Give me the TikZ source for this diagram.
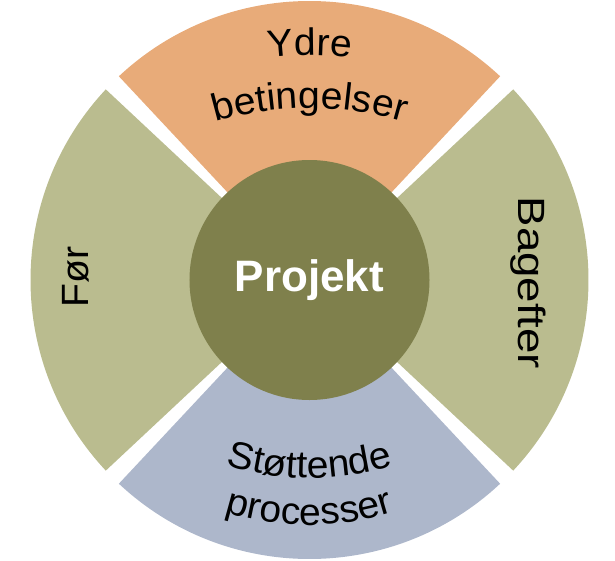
\documentclass[tikz,border=0pt]{standalone}
\usepackage{fontspec}
\setmainfont{Liberation Sans}
\newfontfamily\lblfam{Liberation Sans}[FakeStretch=1.03]
\newfontfamily\widefam{Liberation Sans}[FakeStretch=1.2]
\usetikzlibrary{decorations.text}
\definecolor{secorange}{RGB}{232,171,121}
\definecolor{secgreen}{RGB}{186,188,143}
\definecolor{secblue}{RGB}{173,183,203}
\definecolor{hubolive}{RGB}{127,128,76}
\newcommand\lblfont{\lblfam\fontsize{38}{44}\selectfont}
\newcommand\widelblfont{\widefam\fontsize{38}{44}\selectfont}
\begin{document}
\begin{tikzpicture}[x=1pt,y=1pt,
  curvedlabel/.style={decorate, decoration={text along path, text align=center}},
  sidelabel/.style={font=\lblfont, inner sep=0pt}]
\useasboundingbox (-309.5,-280) rectangle (305.5,280);
% sectors
\fill[secorange] (0,0) -- (46.9:279pt) arc[start angle=46.9,end angle=133.1,radius=279pt] -- cycle;
\fill[secgreen] (0,0) -- (136.9:279pt) arc[start angle=136.9,end angle=223.1,radius=279pt] -- cycle;
\fill[secblue] (0,0) -- (226.9:279pt) arc[start angle=226.9,end angle=313.1,radius=279pt] -- cycle;
\fill[secgreen] (0,0) -- (-43.1:279pt) arc[start angle=-43.1,end angle=43.1,radius=279pt] -- cycle;
% hub
\node[circle, fill=hubolive, minimum size=240pt, inner sep=0pt, text=white,
      font=\fontsize{44}{44}\selectfont\bfseries] (hub) at (0,0) {Projekt};
% side labels
\node[sidelabel, rotate=90] (before) at (-234,3) {Før};
\node[sidelabel, font=\widelblfont, rotate=-90] (after) at (219,-3) {Bagefter};
% curved labels
\path[curvedlabel, decoration={text={|\lblfont|Ydre}}, shift={(0,-105)}]
  (125:330pt) arc[start angle=125,end angle=55,radius=330pt];
\path[curvedlabel, decoration={text={|\lblfont|betingelser}}, shift={(0,-158)}]
  (125:330pt) arc[start angle=125,end angle=55,radius=330pt];
\path[curvedlabel, decoration={text={|\lblfont|Støttende}}, shift={(0,82)}]
  (235:280pt) arc[start angle=235,end angle=305,radius=280pt];
\path[curvedlabel, decoration={text={|\lblfont|processer}}, shift={(0,35)}]
  (235:280pt) arc[start angle=235,end angle=305,radius=280pt];
\end{tikzpicture}
\end{document}
